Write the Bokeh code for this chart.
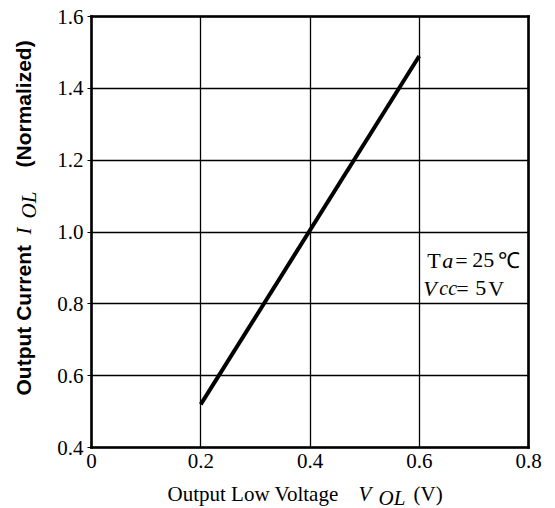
import math
from bokeh.plotting import figure
from bokeh.models import Range1d, FixedTicker, Label, LinearAxis, Grid
from bokeh.embed import file_html
from bokeh.resources import INLINE

# ---- data ----
x_ticks = [0, 0.2, 0.4, 0.6, 0.8]
x_tick_labels = ["0", "0.2", "0.4", "0.6", "0.8"]
y_ticks = [0.4, 0.6, 0.8, 1.0, 1.2, 1.4, 1.6]
y_tick_labels = ["0.4", "0.6", "0.8", "1.0", "1.2", "1.4", "1.6"]
v_ol = [0.2, 0.6]          # Output low voltage (V)
i_ol = [0.52, 1.49]        # Output current (normalized)

# ---- layout (pixels) ----
W, H = 555, 508
PL, PR, PT, PB = 91, 528, 16, 447   # plot box edges on the canvas
BL = 7                               # baseline correction for labels

SERIF = "Liberation Serif"
SANS = "Liberation Sans"

x_lo, x_hi = x_ticks[0], x_ticks[-1]
y_lo, y_hi = y_ticks[0], y_ticks[-1]
kx = (PR - PL) / (x_hi - x_lo)
ky = (PB - PT) / (y_hi - y_lo)
x_range = Range1d(x_lo - PL / kx, x_hi + (W - PR) / kx)
y_range = Range1d(y_lo - (H - PB) / ky, y_hi + PT / ky)

p = figure(
    width=W, height=H, min_border=0,
    x_range=x_range, y_range=y_range,
    output_backend="svg", toolbar_location=None,
    background_fill_color="white", border_fill_color="white",
    x_axis_location=None, y_axis_location=None,
)
p.outline_line_color = None
p.title.visible = False
# drop the default full-canvas grids
p.center = [r for r in p.center if not isinstance(r, Grid)]


def style_axis(ax, ticks, labels, show_labels=True):
    ax.axis_line_color = "black"
    ax.axis_line_width = 2.6
    ax.axis_line_cap = "square"
    ax.minor_tick_line_color = None
    if show_labels:
        ax.ticker = FixedTicker(ticks=ticks)
        ax.major_label_overrides = {t: l for t, l in zip(ticks, labels)}
        ax.major_tick_line_color = "black"
        ax.major_tick_line_width = 1.2
        ax.major_tick_out = 4
        ax.major_tick_in = 0
        ax.major_label_text_font = SERIF
        ax.major_label_text_font_size = "21px"
        ax.major_label_text_color = "black"
    else:
        ax.ticker = FixedTicker(ticks=[])
        ax.major_tick_line_color = None


xb = LinearAxis(fixed_location=y_lo, bounds=(x_lo, x_hi))
style_axis(xb, x_ticks, x_tick_labels)
xb.major_label_standoff = 6
xb.major_tick_out = 0
p.add_layout(xb, "below")

yl = LinearAxis(fixed_location=x_lo, bounds=(y_lo, y_hi))
style_axis(yl, y_ticks, y_tick_labels)
yl.major_label_standoff = 4
p.add_layout(yl, "left")

xt = LinearAxis(fixed_location=y_hi, bounds=(x_lo, x_hi))
style_axis(xt, x_ticks, x_tick_labels, show_labels=False)
p.add_layout(xt, "above")

yr = LinearAxis(fixed_location=x_hi, bounds=(y_lo, y_hi))
style_axis(yr, y_ticks, y_tick_labels, show_labels=False)
p.add_layout(yr, "right")

# grid lines inside the plot box
if "cross_bounds" in Grid.properties():
    gx = Grid(dimension=0, ticker=FixedTicker(ticks=x_ticks), bounds=(x_lo, x_hi), cross_bounds=(y_lo, y_hi))
    gy = Grid(dimension=1, ticker=FixedTicker(ticks=y_ticks), bounds=(y_lo, y_hi), cross_bounds=(x_lo, x_hi))
    for g in (gx, gy):
        g.grid_line_color = "black"
        g.grid_line_width = 1.3
        p.add_layout(g)
else:
    p.segment(x0=x_ticks, y0=[y_lo] * len(x_ticks), x1=x_ticks, y1=[y_hi] * len(x_ticks),
              line_color="black", line_width=1.3)
    p.segment(x0=[x_lo] * len(y_ticks), y0=y_ticks, x1=[x_hi] * len(y_ticks), y1=y_ticks,
              line_color="black", line_width=1.3)

p.line(v_ol, i_ol, line_color="black", line_width=4)


def lab(x, y, text, dx, dy, font=SERIF, size="21px", style="normal", angle=0):
    # shift up (in the text's own frame) to correct the rendered baseline
    if angle:
        dx -= BL
    else:
        dy += BL
    p.add_layout(Label(x=x, y=y, x_offset=dx, y_offset=dy, text=text,
                       text_font=font, text_font_size=size, text_font_style=style,
                       text_color="black", text_align="left", text_baseline="alphabetic",
                       angle=angle))


# x-axis title (with italic symbol and subscript)
lab(x_lo, y_lo, "Output Low Voltage", 76, -53)
lab(x_lo, y_lo, "V", 267, -53, style="italic")
lab(x_lo, y_lo, "OL", 287, -57, style="italic")
lab(x_lo, y_lo, "(V)", 322, -53)

# y-axis title (rotated)
a = math.pi / 2
lab(x_lo, y_lo, "Output Current", -61, 52, font=SANS, style="bold", angle=a)
lab(x_lo, y_lo, "I", -61, 213, style="italic", angle=a)
lab(x_lo, y_lo, "OL", -56, 229, style="italic", angle=a)
lab(x_lo, y_lo, "(Normalized)", -61, 280, font=SANS, style="bold", angle=a)

# conditions note
xn, yn = x_ticks[3], y_ticks[3]
lab(xn, yn, "T", 8, -35, size="22px")
lab(xn, yn, "a", 23, -35, size="22px", style="italic")
lab(xn, yn, "=", 36, -35, size="22px")
lab(xn, yn, "25", 53, -35, size="22px")
lab(xn, yn, "℃", 79, -35, size="22px")
lab(xn, yn, "V", 4, -63, size="22px", style="italic")
lab(xn, yn, "cc", 20, -63, size="20px", style="italic")
lab(xn, yn, "=", 37, -63, size="22px")
lab(xn, yn, "5", 56, -63, size="22px")
lab(xn, yn, "V", 69, -63, size="22px")

open("out.html", "w").write(file_html(p, INLINE))
